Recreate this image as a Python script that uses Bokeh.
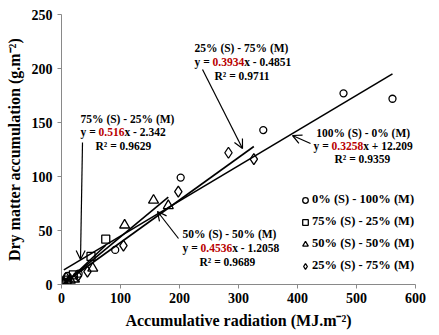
from bokeh.plotting import figure
from bokeh.models import Range1d, Label, Arrow, OpenHead, Legend, LegendItem, FixedTicker
from bokeh.embed import file_html
from bokeh.resources import INLINE

# ---------------- data ----------------
x_ticks = [0, 100, 200, 300, 400, 500, 600]
y_ticks = [0, 50, 100, 150, 200, 250]

legend_labels = ["0% (S) - 100% (M)", "75% (S) - 25% (M)", "50% (S) - 50% (M)", "25% (S) - 75% (M)"]
eq_titles = ["100% (S) - 0% (M)", "75% (S) - 25% (M)", "50% (S) - 50% (M)", "25% (S) - 75% (M)"]
slopes = [0.3258, 0.516, 0.4536, 0.3934]
intercepts = [12.209, -2.342, -1.2058, -0.4851]
r2_values = [0.9359, 0.9629, 0.9689, 0.9711]

s0_x = [4, 10, 29, 91, 202, 342, 478, 561]
s0_y = [2, 8, 10, 32, 99, 143, 177, 172]
s1_x = [4, 9, 20, 50, 75]
s1_y = [2, 4, 9, 26, 42]
s2_x = [3, 8, 15, 22, 53, 107, 156, 181]
s2_y = [1, 6, 4, 5, 15, 55, 78, 73]
s3_x = [3, 12, 28, 44, 105, 198, 283, 326]
s3_y = [1, 3, 8, 12, 36, 86, 122, 116]

series_x = [s0_x, s1_x, s2_x, s3_x]
series_y = [s0_y, s1_y, s2_y, s3_y]

# ---------------- layout ----------------
FL, FR, FT, FB = 61, 415, 14, 284
W, H = 439, 335
FONT = "Liberation Serif"
RED = "#B80000"

def dx(px):
    return (px - FL) * 600.0 / (FR - FL)

def dy(py):
    return (FB - py) * 250.0 / (FB - FT)

p = figure(width=W, height=H, x_range=Range1d(0, 600), y_range=Range1d(0, 250),
           output_backend="svg", toolbar_location=None,
           min_border_left=FL, min_border_right=W - FR,
           min_border_top=FT, min_border_bottom=H - FB)
p.outline_line_color = None
p.grid.visible = False
p.background_fill_color = "white"
p.border_fill_color = "white"

for ax in (p.xaxis, p.yaxis):
    ax.axis_line_color = "#898989"
    ax.major_tick_line_color = "#898989"
    ax.minor_tick_line_color = None
    ax.major_tick_out = 4
    ax.major_tick_in = 0
    ax.major_label_text_font = FONT
    ax.major_label_text_font_style = "bold"
    ax.major_label_text_font_size = "14px"
    ax.major_label_text_color = "black"
    ax.axis_label_text_font = FONT
    ax.axis_label_text_font_style = "bold"
    ax.axis_label_text_font_size = "16px"
    ax.axis_label_text_color = "black"

p.xaxis.ticker = FixedTicker(ticks=x_ticks)
p.yaxis.ticker = FixedTicker(ticks=y_ticks)
p.xaxis.axis_label = "Accumulative radiation (MJ.m\u207b\u00b2)"
p.yaxis.axis_label = "Dry matter accumulation (g.m\u207b\u00b2)"
p.xaxis.major_label_standoff = 4
p.yaxis.major_label_standoff = 5
p.xaxis.axis_label_standoff = 6
p.yaxis.axis_label_standoff = 6

markers = ["circle", "square", "triangle", "diamond"]
sizes = [7, 8, 10, 11]
renderers = []
for i in range(4):
    xs, ys = series_x[i], series_y[i]
    x0, x1 = min(xs), max(xs)
    p.line([x0, x1], [slopes[i] * x0 + intercepts[i], slopes[i] * x1 + intercepts[i]],
           line_color="black", line_width=1.6)
for i in range(4):
    r = p.scatter(series_x[i], series_y[i], marker=markers[i], size=sizes[i],
                  fill_color="white", fill_alpha=0.0, line_color="black", line_width=1.3)
    renderers.append(r)

legend = Legend(items=[LegendItem(label=legend_labels[i], renderers=[renderers[i]]) for i in range(4)],
                location=(298 - FL, FB - 273))
legend.label_text_font = FONT
legend.label_text_font_style = "bold"
legend.label_text_font_size = "12.5px"
legend.label_text_color = "black"
legend.glyph_width = 14
legend.glyph_height = 14
legend.label_height = 14
legend.label_standoff = 0
legend.spacing = 7
legend.padding = 0
legend.margin = 0
legend.border_line_color = None
legend.background_fill_alpha = 0
p.add_layout(legend)

# ---------------- equation annotations ----------------
EM = {' ': 250, '%': 1000, '(': 333, ')': 333, '-': 333, '.': 250, '=': 570, '+': 570,
      'M': 944, 'R': 722, 'S': 556, 'x': 500, 'y': 500, '\u00b2': 300}

def tw(s, fs):
    return sum(EM.get(c, 500) for c in s) * fs / 1000.0

FS = 11.5

def add_text(px, py, text, color="black", off=0.0):
    p.add_layout(Label(x=dx(px), y=dy(py), text=text, x_offset=off,
                       text_font=FONT, text_font_style="bold", text_font_size=f"{FS}px",
                       text_color=color, text_baseline="middle", text_align="left"))

# (left x of lines 1-2, left x of R² line, y of line 1, line spacing)
eq_pos = [(313, 334, 132, 13), (80, 95, 118, 13.5), (182, 199, 233, 14), (194, 214, 47, 14)]

for i in range(4):
    lx, rx, ly, sp = eq_pos[i]
    t0 = eq_titles[i]
    add_text(lx + (tw("y = 0.3258x + 12.209", FS) - tw(t0, FS)) / 2 if i == 0 else lx, ly, t0)
    a = "y = "
    b = str(slopes[i])
    c = "x - " + str(abs(intercepts[i])) if intercepts[i] < 0 else "x + " + str(intercepts[i])
    add_text(lx, ly + sp, a)
    add_text(lx, ly + sp, b, RED, tw(a, FS))
    add_text(lx, ly + sp, c, "black", tw(a, FS) + tw(b, FS))
    add_text(rx, ly + 2 * sp, "R\u00b2 = " + str(r2_values[i]))

arrows = [((310, 143), (292, 135)), ((82, 142), (80, 259)), ((178, 238), (157, 211)), ((202, 69), (242, 148))]
for (sx, sy), (ex, ey) in arrows:
    p.add_layout(Arrow(end=OpenHead(size=9, line_width=1.2, line_color="black"),
                       x_start=dx(sx), y_start=dy(sy), x_end=dx(ex), y_end=dy(ey),
                       line_width=1.2, line_color="black"))

open("out.html", "w").write(file_html(p, INLINE))
